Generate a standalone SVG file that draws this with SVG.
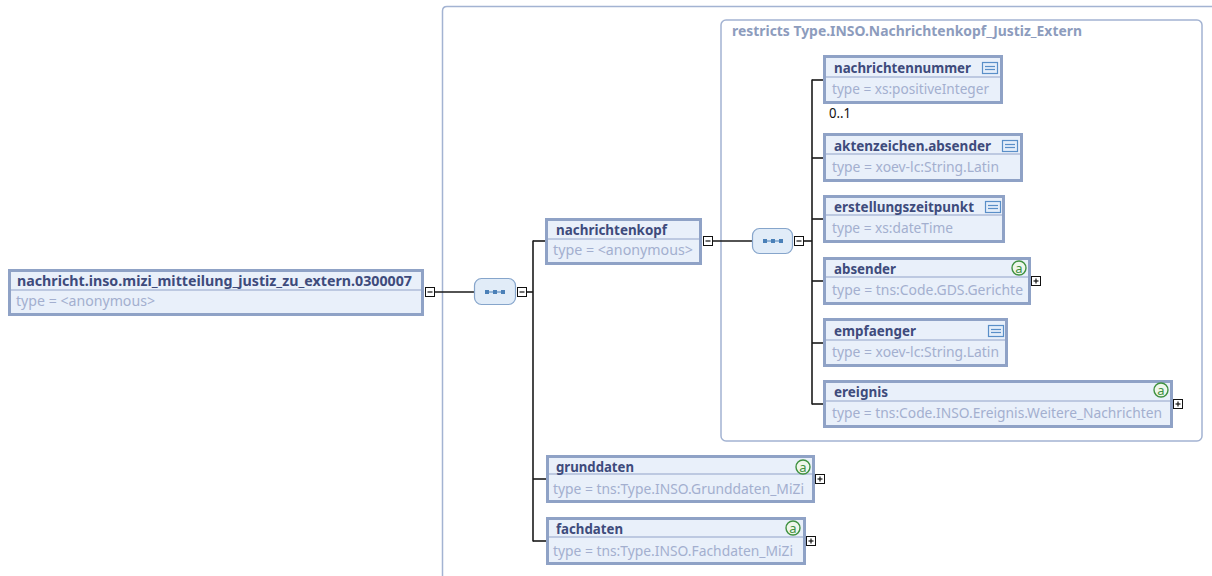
<svg xmlns="http://www.w3.org/2000/svg" width="1212" height="576" viewBox="0 0 1212 576">
<style>
.bg{fill:#ffffff}
.frame{fill:none;stroke:#a3b3d2;stroke-width:1.5}
.box{fill:#e9f0fa;stroke:#8fa2c6;stroke-width:3}
.sep{stroke:#aebcd8;stroke-width:1.5}
.t{font-family:"Noto Sans","DejaVu Sans",sans-serif;font-size:14px;font-weight:bold;fill:#3e4b7c}
.ty{font-family:"Noto Sans","DejaVu Sans",sans-serif;font-size:14px;fill:#a3afcf}
.ft{font-family:"Noto Sans","DejaVu Sans",sans-serif;font-size:14px;font-weight:bold;fill:#8d9cbd}
.occ{font-family:"Noto Sans","DejaVu Sans",sans-serif;font-size:14px;fill:#111}
.conn{stroke:#1a1a1a;stroke-width:1.6;fill:none}
.btn{fill:#ffffff;stroke:#111;stroke-width:1}
.btnl{stroke:#111;stroke-width:1.2}
.seq{fill:#e1ecf8;stroke:#86a5cb;stroke-width:1.2}
.dot{fill:#4a80b8}
.dl{stroke:#4a80b8;stroke-width:1}
.ico{fill:#e4eefa;stroke:#5a8fc8;stroke-width:1.2}
.icol{stroke:#5a8fc8;stroke-width:1.2}
.att{fill:#eef6ea;stroke:#3f9140;stroke-width:1.4}
.attt{font-family:"Noto Sans","DejaVu Sans",sans-serif;font-size:13px;fill:#3f9140;text-anchor:middle}
</style>
<rect class="bg" x="0" y="0" width="1212" height="576"/>

<g id="frames">
<path class="frame" d="M442.5,576 V11 Q442.5,6.5 447,6.5 H1212"/>
<rect class="frame" x="721" y="20" width="481" height="421" rx="5"/>
<text class="ft" x="732" y="36" textLength="350" lengthAdjust="spacingAndGlyphs">restricts Type.INSO.Nachrichtenkopf_Justiz_Extern</text>
</g>

<g id="connectors">
<line class="conn" x1="434.5" y1="292" x2="474" y2="292"/>
<line class="conn" x1="526.5" y1="292" x2="533" y2="292"/>
<line class="conn" x1="533" y1="240.5" x2="533" y2="541.5"/>
<line class="conn" x1="533" y1="241" x2="546" y2="241"/>
<line class="conn" x1="533" y1="479" x2="547" y2="479"/>
<line class="conn" x1="533" y1="541" x2="547" y2="541"/>
<line class="conn" x1="712.5" y1="241" x2="752" y2="241"/>
<line class="conn" x1="803.5" y1="241" x2="812" y2="241"/>
<line class="conn" x1="812" y1="79.5" x2="812" y2="404.5"/>
<line class="conn" x1="812" y1="80" x2="824" y2="80"/>
<line class="conn" x1="812" y1="158" x2="824" y2="158"/>
<line class="conn" x1="812" y1="219" x2="824" y2="219"/>
<line class="conn" x1="812" y1="281" x2="824" y2="281"/>
<line class="conn" x1="812" y1="343" x2="824" y2="343"/>
<line class="conn" x1="812" y1="404" x2="824" y2="404"/>
<rect class="btn" x="425.5" y="287.5" width="9" height="9"/><line class="btnl" x1="427.5" y1="292" x2="432.5" y2="292"/>
<rect class="btn" x="517.5" y="287.5" width="9" height="9"/><line class="btnl" x1="519.5" y1="292" x2="524.5" y2="292"/>
<rect class="btn" x="703.5" y="236.5" width="9" height="9"/><line class="btnl" x1="705.5" y1="241" x2="710.5" y2="241"/>
<rect class="btn" x="794.5" y="236.5" width="9" height="9"/><line class="btnl" x1="796.5" y1="241" x2="801.5" y2="241"/>
<text class="occ" x="829" y="118" textLength="22" lengthAdjust="spacingAndGlyphs">0..1</text>
</g>

<g id="seq1">
<rect class="seq" x="474.5" y="278.5" width="41" height="26" rx="7"/>
<line class="dl" x1="487" y1="292" x2="503" y2="292"/>
<rect class="dot" x="485" y="290" width="4" height="4"/><rect class="dot" x="493" y="290" width="4" height="4"/><rect class="dot" x="501" y="290" width="4" height="4"/>
</g>
<g id="seq2">
<rect class="seq" x="752.5" y="228.5" width="40" height="25" rx="7"/>
<line class="dl" x1="765" y1="241" x2="781" y2="241"/>
<rect class="dot" x="763" y="239" width="4" height="4"/><rect class="dot" x="771" y="239" width="4" height="4"/><rect class="dot" x="779" y="239" width="4" height="4"/>
</g>

<g id="root">
<rect class="box" x="9.5" y="270.5" width="413" height="44"/>
<line class="sep" x1="11" y1="290" x2="421" y2="290"/>
<text class="t" x="17" y="286" textLength="395" lengthAdjust="spacingAndGlyphs">nachricht.inso.mizi_mitteilung_justiz_zu_extern.0300007</text>
<text class="ty" x="16" y="306" textLength="139" lengthAdjust="spacingAndGlyphs">type = &lt;anonymous&gt;</text>
</g>

<g id="nachrichtenkopf">
<rect class="box" x="546.5" y="219.5" width="154" height="44"/>
<line class="sep" x1="548" y1="239" x2="699" y2="239"/>
<text class="t" x="556" y="235" textLength="111" lengthAdjust="spacingAndGlyphs">nachrichtenkopf</text>
<text class="ty" x="553" y="255" textLength="140" lengthAdjust="spacingAndGlyphs">type = &lt;anonymous&gt;</text>
</g>

<g id="nachrichtennummer">
<rect class="box" x="824.5" y="56.5" width="177" height="46"/>
<line class="sep" x1="826" y1="77" x2="1000" y2="77"/>
<text class="t" x="834" y="73" textLength="137" lengthAdjust="spacingAndGlyphs">nachrichtennummer</text>
<text class="ty" x="832" y="94" textLength="157" lengthAdjust="spacingAndGlyphs">type = xs:positiveInteger</text>
<rect class="ico" x="982.5" y="62.5" width="15" height="11"/><line class="icol" x1="985" y1="66.5" x2="995" y2="66.5"/><line class="icol" x1="985" y1="69.5" x2="995" y2="69.5"/>
</g>

<g id="aktenzeichen.absender">
<rect class="box" x="824.5" y="134.5" width="197" height="46"/>
<line class="sep" x1="826" y1="154" x2="1020" y2="154"/>
<text class="t" x="834" y="151" textLength="157" lengthAdjust="spacingAndGlyphs">aktenzeichen.absender</text>
<text class="ty" x="832" y="172" textLength="167" lengthAdjust="spacingAndGlyphs">type = xoev-lc:String.Latin</text>
<rect class="ico" x="1002.5" y="140.5" width="15" height="11"/><line class="icol" x1="1005" y1="144.5" x2="1015" y2="144.5"/><line class="icol" x1="1005" y1="147.5" x2="1015" y2="147.5"/>
</g>

<g id="erstellungszeitpunkt">
<rect class="box" x="824.5" y="196.5" width="179" height="45"/>
<line class="sep" x1="826" y1="215" x2="1002" y2="215"/>
<text class="t" x="834" y="212" textLength="140" lengthAdjust="spacingAndGlyphs">erstellungszeitpunkt</text>
<text class="ty" x="832" y="233" textLength="121" lengthAdjust="spacingAndGlyphs">type = xs:dateTime</text>
<rect class="ico" x="985.5" y="201.5" width="15" height="11"/><line class="icol" x1="988" y1="205.5" x2="998" y2="205.5"/><line class="icol" x1="988" y1="208.5" x2="998" y2="208.5"/>
</g>

<g id="absender">
<rect class="box" x="824.5" y="258.5" width="205" height="45"/>
<line class="sep" x1="826" y1="277" x2="1028" y2="277"/>
<text class="t" x="834" y="274" textLength="62" lengthAdjust="spacingAndGlyphs">absender</text>
<text class="ty" x="832" y="295" textLength="191" lengthAdjust="spacingAndGlyphs">type = tns:Code.GDS.Gerichte</text>
<circle class="att" cx="1019" cy="268" r="7"/><text class="attt" x="1019" y="272.5">a</text>
<rect class="btn" x="1031.5" y="276.5" width="9" height="9"/><line class="btnl" x1="1033.5" y1="281" x2="1038.5" y2="281"/><line class="btnl" x1="1036" y1="278.5" x2="1036" y2="283.5"/>
</g>

<g id="empfaenger">
<rect class="box" x="824.5" y="319.5" width="182" height="46"/>
<line class="sep" x1="826" y1="340" x2="1005" y2="340"/>
<text class="t" x="834" y="336" textLength="82" lengthAdjust="spacingAndGlyphs">empfaenger</text>
<text class="ty" x="832" y="357" textLength="167" lengthAdjust="spacingAndGlyphs">type = xoev-lc:String.Latin</text>
<rect class="ico" x="988.5" y="325.5" width="15" height="11"/><line class="icol" x1="991" y1="329.5" x2="1001" y2="329.5"/><line class="icol" x1="991" y1="332.5" x2="1001" y2="332.5"/>
</g>

<g id="ereignis">
<rect class="box" x="824.5" y="381.5" width="347" height="45"/>
<line class="sep" x1="826" y1="401" x2="1170" y2="401"/>
<text class="t" x="834" y="397" textLength="54" lengthAdjust="spacingAndGlyphs">ereignis</text>
<text class="ty" x="832" y="418" textLength="330" lengthAdjust="spacingAndGlyphs">type = tns:Code.INSO.Ereignis.Weitere_Nachrichten</text>
<circle class="att" cx="1161" cy="390" r="7"/><text class="attt" x="1161" y="394.5">a</text>
<rect class="btn" x="1173.5" y="399.5" width="9" height="9"/><line class="btnl" x1="1175.5" y1="404" x2="1180.5" y2="404"/><line class="btnl" x1="1178" y1="401.5" x2="1178" y2="406.5"/>
</g>

<g id="grunddaten">
<rect class="box" x="547.5" y="456.5" width="266" height="45"/>
<line class="sep" x1="549" y1="474" x2="812" y2="474"/>
<text class="t" x="556" y="472" textLength="78" lengthAdjust="spacingAndGlyphs">grunddaten</text>
<text class="ty" x="553" y="494" textLength="251" lengthAdjust="spacingAndGlyphs">type = tns:Type.INSO.Grunddaten_MiZi</text>
<circle class="att" cx="803" cy="467" r="7"/><text class="attt" x="803" y="471.5">a</text>
<rect class="btn" x="815.5" y="474.5" width="9" height="9"/><line class="btnl" x1="817.5" y1="479" x2="822.5" y2="479"/><line class="btnl" x1="820" y1="476.5" x2="820" y2="481.5"/>
</g>

<g id="fachdaten">
<rect class="box" x="547.5" y="518.5" width="257" height="45"/>
<line class="sep" x1="549" y1="537" x2="803" y2="537"/>
<text class="t" x="556" y="534" textLength="67" lengthAdjust="spacingAndGlyphs">fachdaten</text>
<text class="ty" x="553" y="556" textLength="240" lengthAdjust="spacingAndGlyphs">type = tns:Type.INSO.Fachdaten_MiZi</text>
<circle class="att" cx="793" cy="528" r="7"/><text class="attt" x="793" y="532.5">a</text>
<rect class="btn" x="806.5" y="536.5" width="9" height="9"/><line class="btnl" x1="808.5" y1="541" x2="813.5" y2="541"/><line class="btnl" x1="811" y1="538.5" x2="811" y2="543.5"/>
</g>
</svg>
